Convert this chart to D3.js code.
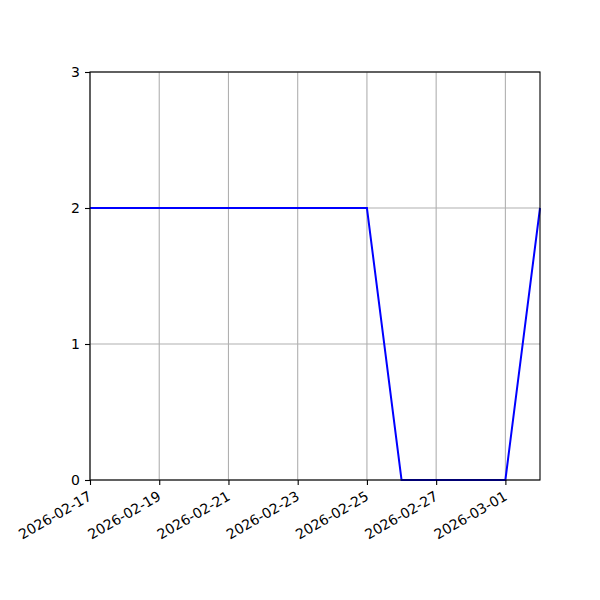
<!DOCTYPE html>
<html>
<head>
<meta charset="utf-8">
<script src="https://cdn.jsdelivr.net/npm/d3@7"></script>
<style>
  body { margin: 0; background: #fff; }
  svg { display: block; font-family: "DejaVu Sans", sans-serif; }
</style>
</head>
<body>
<div id="chart"></div>
<script>
// data
var dates = ["2026-02-17", "2026-02-18", "2026-02-19", "2026-02-20", "2026-02-21",
             "2026-02-22", "2026-02-23", "2026-02-24", "2026-02-25", "2026-02-26",
             "2026-02-27", "2026-02-28", "2026-03-01", "2026-03-02"];
var counts = [2, 2, 2, 2, 2, 2, 2, 2, 2, 0, 0, 0, 0, 2];
var yTicks = [0, 1, 2, 3];
var xTickLabels = ["2026-02-17", "2026-02-19", "2026-02-21", "2026-02-23",
                   "2026-02-25", "2026-02-27", "2026-03-01"];

var parse = d3.utcParse("%Y-%m-%d");
var fmt = d3.utcFormat("%Y-%m-%d");

var margin = { top: 72, right: 60, bottom: 120, left: 90 },
    width = 600 - margin.left - margin.right,
    height = 600 - margin.top - margin.bottom;

var svg = d3.select("#chart").append("svg")
    .attr("width", 600)
    .attr("height", 600);

var g = svg.append("g")
    .attr("transform", "translate(" + margin.left + "," + margin.top + ")");

var points = dates.map(function(d, i) { return { date: parse(d), value: counts[i] }; });

var xscale = d3.scaleUtc()
    .domain(d3.extent(points, function(d) { return d.date; }))
    .range([0, width]);

var yscale = d3.scaleLinear()
    .domain([0, 3])
    .range([height, 0]);

var xTickDates = xTickLabels.map(parse);

// grid
g.append("g")
    .selectAll("line")
    .data(xTickDates)
    .enter().append("line")
    .attr("x1", function(d) { return xscale(d); })
    .attr("x2", function(d) { return xscale(d); })
    .attr("y1", 0)
    .attr("y2", height)
    .attr("stroke", "#b0b0b0")
    .attr("stroke-width", 1.1);

g.append("g")
    .selectAll("line")
    .data(yTicks)
    .enter().append("line")
    .attr("x1", 0)
    .attr("x2", width)
    .attr("y1", function(d) { return yscale(d); })
    .attr("y2", function(d) { return yscale(d); })
    .attr("stroke", "#b0b0b0")
    .attr("stroke-width", 1.1);

// line
var line = d3.line()
    .x(function(d) { return xscale(d.date); })
    .y(function(d) { return yscale(d.value); });

g.append("path")
    .datum(points)
    .attr("fill", "none")
    .attr("stroke", "#0000ff")
    .attr("stroke-width", 2)
    .attr("d", line);

// frame
g.append("rect")
    .attr("width", width)
    .attr("height", height)
    .attr("fill", "none")
    .attr("stroke", "#000")
    .attr("stroke-width", 1.1);

// axes
var xAxis = g.append("g")
    .attr("transform", "translate(0," + height + ")")
    .call(d3.axisBottom(xscale).tickValues(xTickDates).tickFormat(fmt).tickSize(5).tickPadding(5));

xAxis.select(".domain").remove();
xAxis.selectAll(".tick line").attr("stroke-width", 1.1);
xAxis.selectAll(".tick text")
    .attr("font-family", "DejaVu Sans")
    .attr("font-size", "14px")
    .attr("fill", "#000")
    .attr("text-anchor", "end")
    .attr("transform", "translate(-3,10) rotate(-30)")
    .attr("y", 0)
    .attr("x", 0)
    .attr("dy", "0.75em");

var yAxis = g.append("g")
    .call(d3.axisLeft(yscale).tickValues(yTicks).tickFormat(d3.format("d")).tickSize(5).tickPadding(5));

yAxis.select(".domain").remove();
yAxis.selectAll(".tick line").attr("stroke-width", 1.1);
yAxis.selectAll(".tick text")
    .attr("font-family", "DejaVu Sans")
    .attr("font-size", "14px")
    .attr("fill", "#000");
</script>
</body>
</html>
